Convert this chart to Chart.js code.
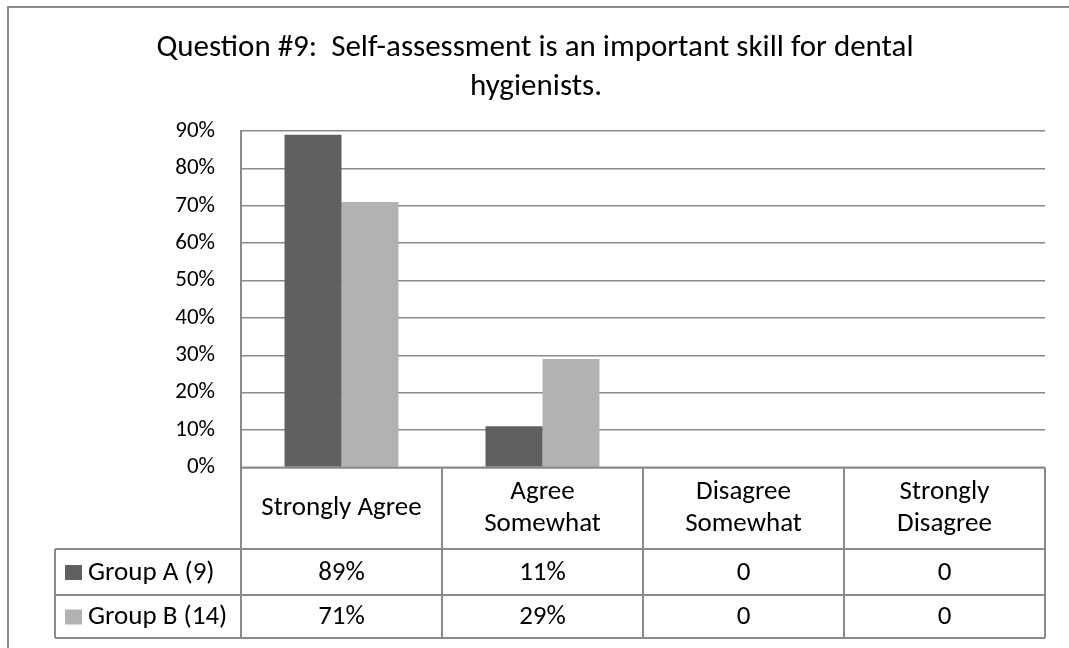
<!DOCTYPE html>
<html>
<head>
<meta charset="utf-8">
<script src="https://cdn.jsdelivr.net/npm/chart.js@4.4.1/dist/chart.umd.min.js"></script>
<style>
  html, body { margin: 0; padding: 0; background: #ffffff; }
  #wrap { width: 1069px; height: 648px; position: relative; }
</style>
</head>
<body>
<div id="wrap"><canvas id="chart" width="1069" height="648"></canvas></div>
<script>
// Survey responses, share of each group per answer
const titleLines = ['Question #9:  Self-assessment is an important skill for dental', 'hygienists.'];
const categories = [['Strongly Agree'], ['Agree', 'Somewhat'], ['Disagree', 'Somewhat'], ['Strongly', 'Disagree']];
const seriesNames = ['Group A (9)', 'Group B (14)'];
const groupA = [0.89, 0.11, 0, 0];
const groupB = [0.71, 0.29, 0, 0];
const yMax = 0.9;
const yStep = 0.1;

const FONT = '"Carlito", "Liberation Sans Narrow", "Open Sans", sans-serif';
const LINE = '#8a8a8a';
const COLORS = ['#606060', '#b2b2b2'];

function cellText(v) {
  return v > 0 ? Math.round(v * 100) + '%' : '0';
}

// Title, outer frame and the data table under the axis
const tablePlugin = {
  id: 'dataTable',
  afterDraw(chart) {
    const ctx = chart.ctx;
    const area = chart.chartArea;
    const xs = chart.scales.x;
    const n = categories.length;
    const colW = (area.right - area.left) / n;
    const headTop = area.bottom;
    const headBottom = 549;
    const rowEdges = [549, 595, 638];
    const legendLeft = 55;

    ctx.save();
    // outer frame
    ctx.strokeStyle = LINE;
    ctx.lineWidth = 2;
    ctx.beginPath();
    ctx.moveTo(8, 660);
    ctx.lineTo(8, 7);
    ctx.lineTo(1080, 7);
    ctx.stroke();

    // title
    ctx.fillStyle = '#000';
    ctx.textAlign = 'center';
    ctx.textBaseline = 'middle';
    ctx.font = '31px ' + FONT;
    ctx.fillText(titleLines[0], 535, 48);
    ctx.fillText(titleLines[1], 536, 87);

    // table grid
    ctx.strokeStyle = LINE;
    ctx.lineWidth = 2;
    ctx.beginPath();
    ctx.moveTo(area.left, headTop);
    ctx.lineTo(area.right, headTop);
    rowEdges.forEach(y => { ctx.moveTo(legendLeft, y); ctx.lineTo(area.right, y); });
    ctx.moveTo(legendLeft, rowEdges[0]);
    ctx.lineTo(legendLeft, rowEdges[2]);
    for (let i = 0; i <= n; i++) {
      const x = area.left + i * colW;
      ctx.moveTo(x, headTop);
      ctx.lineTo(x, rowEdges[2]);
    }
    ctx.stroke();

    // category headers
    ctx.fillStyle = '#000';
    ctx.font = '27px ' + FONT;
    const headMid = (headTop + headBottom) / 2;
    const lh = 32;
    categories.forEach((lines, i) => {
      const cx = xs.getPixelForValue(i);
      const y0 = headMid - (lines.length - 1) * lh / 2;
      lines.forEach((t, k) => ctx.fillText(t, cx, y0 + k * lh));
    });

    // series rows
    const series = [groupA, groupB];
    series.forEach((vals, r) => {
      const top = rowEdges[r], bot = rowEdges[r + 1];
      const mid = (top + bot) / 2 + 1;
      ctx.fillStyle = COLORS[r];
      ctx.fillRect(65, mid - 8, 17, 15);
      ctx.fillStyle = '#000';
      ctx.textAlign = 'left';
      ctx.fillText(seriesNames[r], 88, mid);
      ctx.textAlign = 'center';
      vals.forEach((v, i) => ctx.fillText(cellText(v), xs.getPixelForValue(i), mid));
    });
    ctx.restore();
  }
};

new Chart(document.getElementById('chart'), {
  type: 'bar',
  data: {
    labels: categories.map(c => c.join(' ')),
    datasets: [
      { label: seriesNames[0], data: groupA, backgroundColor: COLORS[0] },
      { label: seriesNames[1], data: groupB, backgroundColor: COLORS[1] }
    ]
  },
  options: {
    responsive: false,
    animation: false,
    devicePixelRatio: 1,
    layout: { padding: { top: 131, bottom: 180.5, left: 0, right: 24 } },
    datasets: { bar: { barPercentage: 1, categoryPercentage: 0.567 } },
    plugins: { legend: { display: false }, title: { display: false }, tooltip: { enabled: false } },
    scales: {
      x: { display: false },
      y: {
        min: 0,
        max: yMax,
        afterFit(scale) { scale.width = 241; },
        ticks: {
          stepSize: yStep,
          padding: 26,
          color: '#000',
          font: { family: FONT, size: 23 },
          callback: v => Math.round(v * 100) + '%'
        },
        grid: { color: LINE, lineWidth: 1.5, drawTicks: false },
        border: { display: true, color: LINE, width: 2 }
      }
    }
  },
  plugins: [tablePlugin]
});
</script>
</body>
</html>
